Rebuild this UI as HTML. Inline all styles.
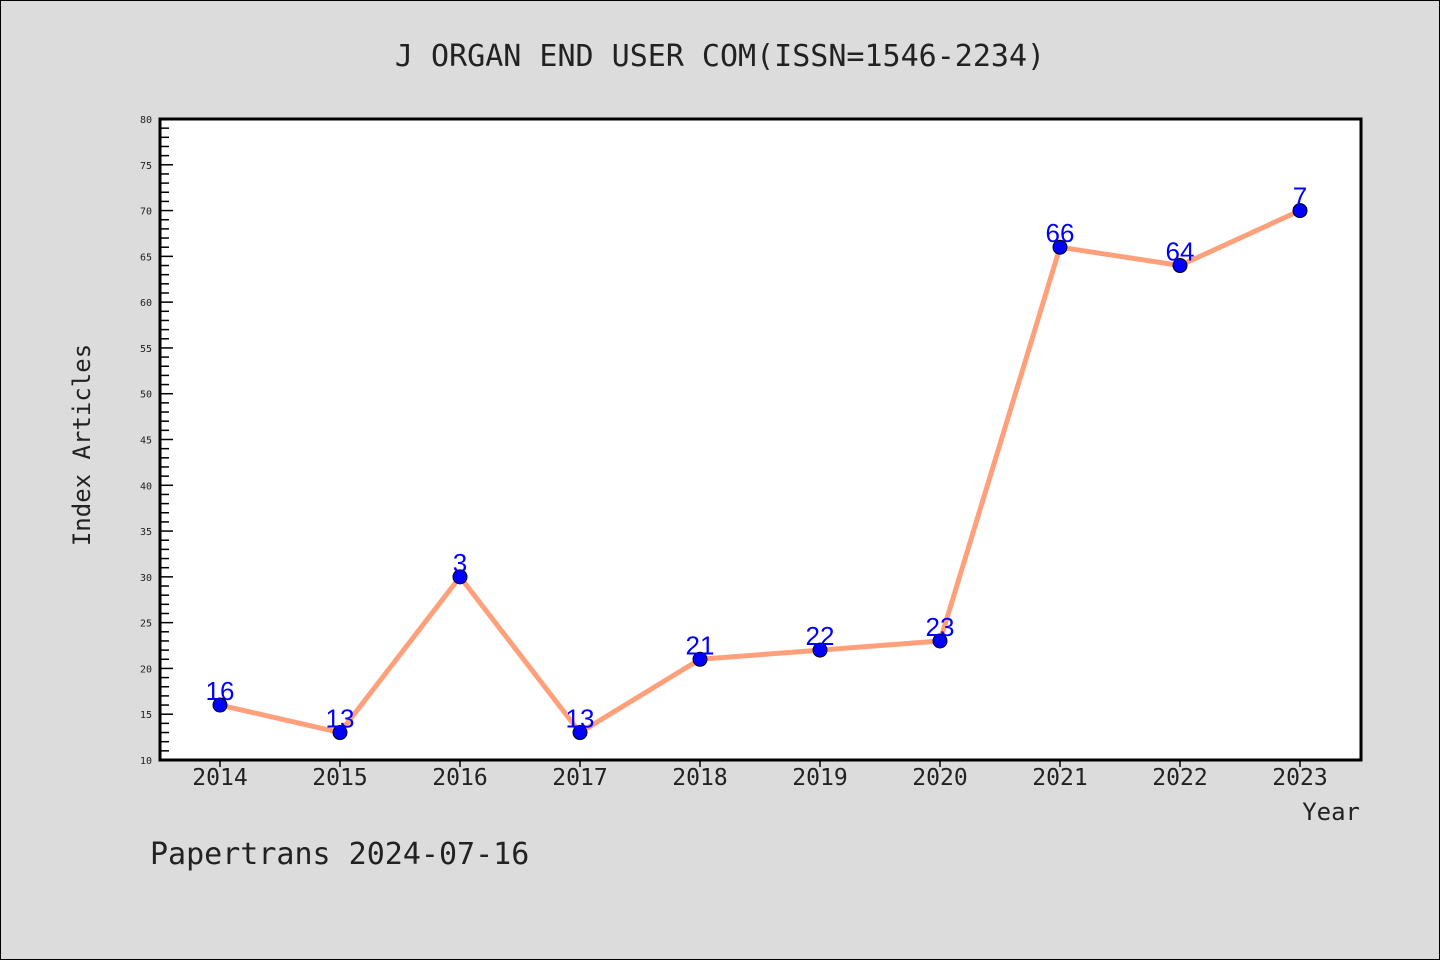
<!DOCTYPE html>
<html><head><meta charset="utf-8"><style>
body{margin:0;background:#dcdcdc;}
svg{display:block;font-family:"DejaVu Sans Mono","Liberation Mono",monospace;}
</style></head><body>
<svg id="chart" width="1440" height="960" xmlns="http://www.w3.org/2000/svg">
<rect x="0.5" y="0.5" width="1439" height="959" fill="#dcdcdc" stroke="#000"/>
<text x="720" y="66" text-anchor="middle" font-size="30" fill="#222">J ORGAN END USER COM(ISSN=1546-2234)</text>
<rect x="160" y="119" width="1201" height="641" fill="#fff"/>
<g id="axes"></g>
<g id="marks"></g>
<rect x="160" y="119" width="1201" height="641" fill="none" stroke="#000" stroke-width="3"/>
<text x="90" y="445" text-anchor="middle" font-size="24" fill="#222" transform="rotate(-90 90 445)">Index Articles</text>
<text x="1360" y="820" text-anchor="end" font-size="24" fill="#222">Year</text>
<text x="150" y="864" font-size="30" fill="#222">Papertrans 2024-07-16</text>
</svg>
<script>
const years = ['2014','2015','2016','2017','2018','2019','2020','2021','2022','2023'];
const values = [16,13,30,13,21,22,23,66,64,70];
const pointLabels = ['16','13','3','13','21','22','23','66','64','7'];
const yTicks = [10,15,20,25,30,35,40,45,50,55,60,65,70,75,80];
const NS='http://www.w3.org/2000/svg';
const yMin=10,yMax=80,plotTop=119,plotBot=760;
function ys(v){return plotBot-(v-yMin)/(yMax-yMin)*(plotBot-plotTop);}
function xs(i){return 220+i*120;}
function mk(tag,attrs,parent){const e=document.createElementNS(NS,tag);for(const k in attrs)e.setAttribute(k,attrs[k]);parent.appendChild(e);return e;}
const axesG=document.getElementById('axes'),marksG=document.getElementById('marks');
for(let v=yMin;v<=yMax;v++){
  const major=v%5===0;
  const t=mk('line',{x1:160,x2:major?173:169,y1:ys(v),y2:ys(v),stroke:'#000','stroke-width':1.5},axesG);
  
  
}
yTicks.forEach(v=>{
  const t=mk('text',{x:152,y:ys(v)+4,'text-anchor':'end','font-size':10,fill:'#222'},axesG);
  t.textContent=v;
  
  
});
years.forEach((y,i)=>{
  const l=mk('line',{x1:xs(i),x2:xs(i),y1:760,y2:767,stroke:'#000','stroke-width':1.5},axesG);
  
  
  const t=mk('text',{x:xs(i),y:785,'text-anchor':'middle','font-size':23,fill:'#222'},axesG);
  t.textContent=y;
  
  
});
const pl=mk('polyline',{points:values.map((v,i)=>xs(i)+','+ys(v)).join(' '),fill:'none',stroke:'#ffa07a','stroke-width':5,'stroke-linejoin':'round'},marksG);


values.forEach((v,i)=>{
  const c=mk('circle',{cx:xs(i),cy:ys(v),r:7,fill:'#0000ff',stroke:'#000','stroke-width':1},marksG);
  
  
  const t=mk('text',{x:xs(i),y:ys(v)-5,'text-anchor':'middle','font-size':26,fill:'#0000ff','font-family':'Liberation Sans, sans-serif'},marksG);
  t.textContent=pointLabels[i];
  
  
});
</script>
</body></html>
